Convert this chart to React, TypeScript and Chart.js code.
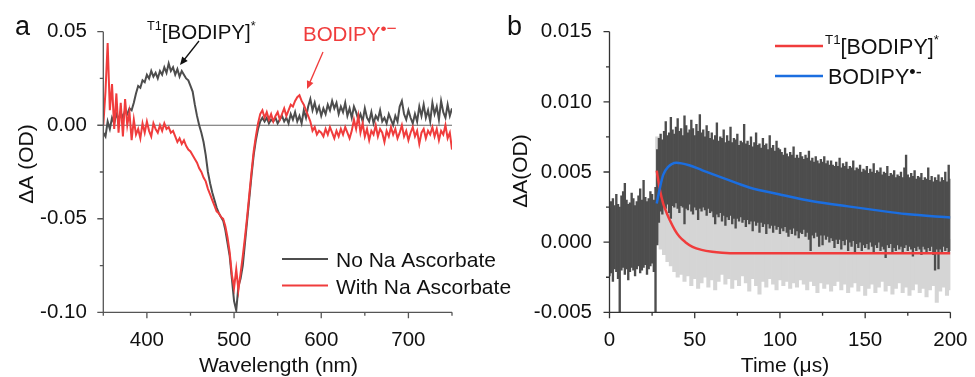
import React, { useEffect, useRef } from 'react';
import { Chart, registerables } from 'chart.js';

Chart.register(...registerables);

const FONT_FAMILY = '"Liberation Sans", Arial, Helvetica, sans-serif';

// ---------------- Panel a: transient absorption spectra ----------------
const WAVELENGTH_START = 350; // nm, first sample
const WAVELENGTH_STEP = 2.5; // nm between samples
const WAVELENGTH_LABELS = [400, 500, 600, 700];
const SPECTRUM_Y_LABELS = [-0.1, -0.05, 0, 0.05];

// No Na Ascorbate (dark trace), 350 → 750 nm
const noAscorbateSpectrum = [
  -0.004, -0.006, 0.002, -0.002, 0.004, 0.001, 0.006, 0.003, 0.007, 0.004, // 350
  0.008, 0.006, 0.009, 0.008, 0.012, 0.017, 0.021, 0.020, 0.024, 0.023, // 375
  0.027, 0.025, 0.029, 0.026, 0.028, 0.025, 0.029, 0.027, 0.031, 0.028, // 400
  0.033, 0.029, 0.031, 0.027, 0.030, 0.026, 0.029, 0.027, 0.025, 0.024, // 425
  0.021, 0.018, 0.011, 0.005, 0.000, -0.004, -0.009, -0.016, -0.025, -0.031, // 450
  -0.036, -0.040, -0.044, -0.047, -0.049, -0.051, -0.056, -0.063, -0.070, -0.082, // 475
  -0.094, -0.099, -0.086, -0.082, -0.075, -0.063, -0.051, -0.039, -0.027, -0.016, // 500
  -0.008, -0.002, 0.002, 0.004, 0.002, 0.004, 0.001, 0.003, 0.002, 0.004, // 525
  0.001, 0.003, 0.005, 0.002, 0.004, 0.001, 0.006, 0.003, 0.007, 0.002, // 550
  0.005, 0.001, 0.008, 0.004, 0.010, 0.014, 0.008, 0.012, 0.007, 0.010, // 575
  0.005, 0.009, 0.006, 0.011, 0.008, 0.013, 0.009, 0.012, 0.006, 0.010, // 600
  0.007, 0.012, 0.005, 0.009, 0.004, 0.010, 0.007, 0.003, 0.006, 0.002, // 625
  0.009, 0.004, 0.002, 0.007, 0.001, 0.005, 0.003, 0.008, 0.002, 0.004, // 650
  0.001, 0.006, 0.003, 0.000, 0.005, 0.002, 0.010, 0.013, 0.006, 0.003, // 675
  0.008, 0.004, 0.001, 0.006, 0.002, 0.010, 0.005, 0.011, 0.004, 0.008, // 700
  0.002, 0.012, 0.006, 0.010, 0.003, 0.013, 0.007, 0.004, 0.011, 0.005, // 725
  0.009, // 750
];

// With Na Ascorbate (red trace), 350 → 750 nm
const withAscorbateSpectrum = [
  0.000, 0.018, 0.044, 0.008, 0.022, -0.002, 0.017, -0.004, 0.012, -0.006, // 350
  0.014, 0.000, 0.007, -0.008, 0.003, -0.005, -0.002, -0.007, 0.001, -0.004, // 375
  0.002, -0.003, -0.006, 0.001, -0.002, -0.004, 0.000, -0.003, 0.001, -0.002, // 400
  -0.001, -0.004, -0.003, -0.006, -0.009, -0.007, -0.010, -0.008, -0.011, -0.013, // 425
  -0.014, -0.016, -0.018, -0.020, -0.023, -0.025, -0.028, -0.030, -0.034, -0.037, // 450
  -0.040, -0.043, -0.046, -0.047, -0.049, -0.050, -0.054, -0.060, -0.068, -0.080, // 475
  -0.087, -0.077, -0.088, -0.079, -0.070, -0.060, -0.049, -0.037, -0.025, -0.014, // 500
  -0.006, 0.001, 0.006, 0.008, 0.004, 0.007, 0.003, 0.006, 0.002, 0.005, // 525
  0.007, 0.003, 0.006, 0.009, 0.005, 0.008, 0.011, 0.010, 0.013, 0.015, // 550
  0.016, 0.013, 0.011, 0.008, 0.005, 0.002, -0.003, -0.001, -0.005, -0.003, // 575
  -0.004, -0.006, -0.002, -0.005, -0.001, -0.004, -0.007, -0.003, -0.006, -0.002, // 600
  -0.005, -0.001, -0.004, -0.007, -0.003, 0.003, -0.002, 0.005, -0.004, 0.001, // 625
  -0.006, -0.002, -0.008, -0.003, -0.005, 0.000, -0.006, -0.002, -0.004, -0.009, // 650
  -0.003, -0.006, -0.001, -0.005, -0.002, -0.007, -0.004, 0.000, -0.006, -0.003, // 675
  -0.008, -0.004, -0.001, -0.006, -0.003, -0.010, -0.004, -0.002, -0.007, -0.003, // 700
  -0.005, -0.001, -0.006, -0.002, -0.008, -0.003, -0.005, 0.000, -0.007, -0.004, // 725
  -0.013, // 750
];

// ---------------- Panel b: kinetics ----------------
const TIME_LABELS = [0, 50, 100, 150, 200];
const KINETIC_Y_LABELS = [-0.005, 0, 0.005, 0.01, 0.015];

// No Na Ascorbate raw trace: per-µs envelope (upper / lower extent of the noise)
const NO_ASC_TIME_START = 0; // µs
const NO_ASC_TIME_STEP = 1; // µs
const noAscorbateHigh = [
  0.0024, 0.0029, 0.0031, 0.0026, 0.0034, 0.0027, 0.0025, 0.0033, 0.0036, 0.0042, // 0
  0.0030, 0.0027, 0.0028, 0.0035, 0.0031, 0.0026, 0.0029, 0.0033, 0.0038, 0.0030, // 10
  0.0044, 0.0032, 0.0029, 0.0031, 0.0036, 0.0034, 0.0030, 0.0039, 0.0066, 0.0074, // 20
  0.0077, 0.0073, 0.0079, 0.0086, 0.0076, 0.0078, 0.0089, 0.0080, 0.0077, 0.0082, // 30
  0.0088, 0.0079, 0.0081, 0.0076, 0.0090, 0.0083, 0.0078, 0.0080, 0.0087, 0.0081, // 40
  0.0076, 0.0084, 0.0079, 0.0091, 0.0078, 0.0080, 0.0075, 0.0083, 0.0079, 0.0074, // 50
  0.0078, 0.0073, 0.0076, 0.0085, 0.0072, 0.0075, 0.0074, 0.0080, 0.0071, 0.0076, // 60
  0.0072, 0.0082, 0.0071, 0.0074, 0.0073, 0.0077, 0.0069, 0.0072, 0.0071, 0.0084, // 70
  0.0070, 0.0072, 0.0069, 0.0075, 0.0068, 0.0071, 0.0078, 0.0069, 0.0070, 0.0067, // 80
  0.0074, 0.0069, 0.0070, 0.0066, 0.0076, 0.0067, 0.0069, 0.0065, 0.0072, 0.0067, // 90
  0.0066, 0.0064, 0.0062, 0.0067, 0.0063, 0.0061, 0.0064, 0.0062, 0.0068, 0.0060, // 100
  0.0062, 0.0060, 0.0064, 0.0061, 0.0059, 0.0062, 0.0060, 0.0065, 0.0058, 0.0060, // 110
  0.0057, 0.0061, 0.0058, 0.0056, 0.0059, 0.0057, 0.0061, 0.0056, 0.0058, 0.0055, // 120
  0.0058, 0.0055, 0.0054, 0.0057, 0.0054, 0.0060, 0.0053, 0.0056, 0.0054, 0.0057, // 130
  0.0052, 0.0054, 0.0053, 0.0058, 0.0051, 0.0053, 0.0052, 0.0055, 0.0050, 0.0052, // 140
  0.0051, 0.0054, 0.0049, 0.0052, 0.0050, 0.0056, 0.0049, 0.0051, 0.0050, 0.0053, // 150
  0.0048, 0.0050, 0.0049, 0.0054, 0.0047, 0.0049, 0.0048, 0.0051, 0.0046, 0.0048, // 160
  0.0047, 0.0050, 0.0046, 0.0053, 0.0062, 0.0048, 0.0046, 0.0049, 0.0047, 0.0051, // 170
  0.0045, 0.0047, 0.0046, 0.0049, 0.0044, 0.0046, 0.0045, 0.0053, 0.0044, 0.0047, // 180
  0.0043, 0.0046, 0.0044, 0.0048, 0.0043, 0.0046, 0.0044, 0.0050, 0.0043, 0.0055, // 190
  0.0045, // 200
];
const noAscorbateLow = [
  -0.0024, -0.0022, -0.0028, -0.0019, -0.0021, -0.0026, -0.0050, -0.0020, -0.0018, -0.0023, // 0
  -0.0019, -0.0027, -0.0021, -0.0018, -0.0020, -0.0024, -0.0019, -0.0017, -0.0022, -0.0020, // 10
  -0.0018, -0.0016, -0.0023, -0.0019, -0.0017, -0.0015, -0.0021, -0.0050, -0.0002, 0.0014, // 20
  0.0022, 0.0020, 0.0026, 0.0024, 0.0027, 0.0021, 0.0017, 0.0026, 0.0025, 0.0028, // 30
  0.0024, 0.0021, 0.0026, 0.0025, 0.0013, 0.0024, 0.0023, 0.0027, 0.0022, 0.0020, // 40
  0.0025, 0.0023, 0.0016, 0.0024, 0.0022, 0.0025, 0.0023, 0.0019, 0.0024, 0.0021, // 50
  0.0022, 0.0018, 0.0013, 0.0020, 0.0018, 0.0021, 0.0015, 0.0019, 0.0012, 0.0018, // 60
  0.0016, 0.0019, 0.0013, 0.0017, 0.0010, 0.0017, 0.0015, 0.0018, 0.0014, 0.0016, // 70
  0.0011, 0.0016, 0.0013, 0.0015, 0.0008, 0.0015, 0.0012, 0.0014, 0.0007, 0.0014, // 80
  0.0011, 0.0013, 0.0006, 0.0013, 0.0010, 0.0012, 0.0007, 0.0012, 0.0009, 0.0011, // 90
  0.0006, 0.0010, 0.0008, 0.0011, 0.0007, 0.0004, 0.0009, 0.0006, 0.0010, 0.0005, // 100
  0.0008, 0.0003, 0.0007, 0.0006, 0.0009, 0.0004, 0.0007, 0.0002, -0.0006, 0.0005, // 110
  0.0003, 0.0007, 0.0004, -0.0003, 0.0005, -0.0002, 0.0005, 0.0002, 0.0004, 0.0000, // 120
  0.0003, 0.0001, -0.0004, 0.0002, -0.0001, 0.0002, -0.0005, 0.0001, -0.0002, 0.0002, // 130
  -0.0006, 0.0000, -0.0003, 0.0001, -0.0007, -0.0001, -0.0004, 0.0000, -0.0006, -0.0002, // 140
  -0.0004, -0.0001, -0.0005, 0.0000, -0.0003, -0.0007, -0.0002, -0.0004, 0.0000, -0.0006, // 150
  -0.0003, -0.0005, -0.0011, -0.0002, -0.0004, -0.0001, -0.0007, -0.0004, -0.0006, -0.0002, // 160
  -0.0005, -0.0003, -0.0008, -0.0004, -0.0002, -0.0006, -0.0003, -0.0005, -0.0010, -0.0004, // 170
  -0.0006, -0.0003, -0.0005, -0.0009, -0.0003, -0.0005, -0.0007, -0.0004, -0.0006, -0.0003, // 180
  -0.0009, -0.0020, -0.0005, -0.0019, -0.0005, -0.0007, -0.0003, -0.0006, -0.0004, -0.0008, // 190
  -0.0006, // 200
];

// With Na Ascorbate raw trace (light grey): envelope every 2 µs after the pulse
const WITH_ASC_TIME_START = 28; // µs
const WITH_ASC_TIME_STEP = 2; // µs
const withAscorbateHigh = [
  0.0075, 0.0045, 0.0040, 0.0036, 0.0033, 0.0030, 0.0028, 0.0034, 0.0026, 0.0029, // 28
  0.0025, 0.0027, 0.0023, 0.0028, 0.0024, 0.0026, 0.0022, 0.0025, 0.0021, 0.0024, // 48
  0.0020, 0.0023, 0.0019, 0.0022, 0.0020, 0.0023, 0.0018, 0.0021, 0.0019, 0.0022, // 68
  0.0018, 0.0020, 0.0017, 0.0021, 0.0018, 0.0016, 0.0019, 0.0017, 0.0015, 0.0018, // 88
  0.0016, 0.0014, 0.0017, 0.0015, 0.0013, 0.0016, 0.0014, 0.0012, 0.0015, 0.0013, // 108
  0.0011, 0.0014, 0.0012, 0.0010, 0.0013, 0.0011, 0.0009, 0.0012, 0.0010, 0.0008, // 128
  0.0011, 0.0009, 0.0007, 0.0010, 0.0008, 0.0006, 0.0009, 0.0007, 0.0005, 0.0008, // 148
  0.0006, 0.0004, 0.0007, 0.0005, 0.0003, 0.0006, 0.0004, 0.0002, 0.0005, 0.0003, // 168
  0.0001, 0.0004, 0.0002, 0.0000, 0.0003, 0.0001, 0.0002, // 188
];
const withAscorbateLow = [
  0.0000, -0.0005, -0.0009, -0.0014, -0.0017, -0.0021, -0.0025, -0.0023, -0.0028, -0.0024, // 28
  -0.0031, -0.0026, -0.0033, -0.0029, -0.0025, -0.0032, -0.0027, -0.0034, -0.0028, -0.0023, // 48
  -0.0030, -0.0026, -0.0033, -0.0027, -0.0031, -0.0024, -0.0029, -0.0035, -0.0026, -0.0031, // 68
  -0.0037, -0.0028, -0.0032, -0.0026, -0.0030, -0.0034, -0.0027, -0.0031, -0.0028, -0.0033, // 88
  -0.0029, -0.0032, -0.0027, -0.0030, -0.0034, -0.0028, -0.0031, -0.0036, -0.0029, -0.0033, // 108
  -0.0030, -0.0035, -0.0031, -0.0028, -0.0034, -0.0030, -0.0036, -0.0032, -0.0029, -0.0035, // 128
  -0.0031, -0.0038, -0.0033, -0.0030, -0.0036, -0.0032, -0.0028, -0.0035, -0.0031, -0.0037, // 148
  -0.0033, -0.0029, -0.0036, -0.0032, -0.0038, -0.0034, -0.0030, -0.0036, -0.0033, -0.0039, // 168
  -0.0034, -0.0031, -0.0043, -0.0035, -0.0032, -0.0038, -0.0034, // 188
];

// Kinetic fits
const tripletFitTime = [27.7, 29.6, 31.5, 33.5, 35.4, 38.2, 41.1, 44.5, 48.7, 54, 60.2, 66, 75, 90, 120, 160, 200];
const tripletFitValue = [0.0051, 0.0037, 0.00275, 0.0021, 0.00156, 0.0009, 0.00038, 0.0, -0.00033, -0.00055, -0.00069, -0.00076, -0.0008, -0.0008, -0.0008, -0.0008, -0.0008];
const anionFitTime = [27.7, 29.6, 31.5, 34.4, 39.2, 46.8, 54.5, 66, 82, 100, 120, 140, 155, 174, 200];
const anionFitValue = [0.00275, 0.0039, 0.0048, 0.00536, 0.00566, 0.00548, 0.00512, 0.0046, 0.0039, 0.0034, 0.0029, 0.00255, 0.0023, 0.002, 0.00176];

// ---------------- styling ----------------
const DARK_TRACE = '#4d4d4d';
const LIGHT_TRACE = '#d5d5d5';
const RED = '#f03c3c';
const BLUE = '#1b6ee0';
const TICK_FONT = { family: FONT_FAMILY, size: 20.5 };
const MAJOR_TICK = 6;
const MINOR_TICK = 3.5;
const PANEL_A_WIDTH = 520;
const PANEL_B_LEFT = 487;

function matchLabel(v: number, list: number[]) {
  return list.find((m) => Math.abs(m - v) < 1e-7);
}

// [text, superscript?, size scale, rise (fraction of size)]
type Part = [string, boolean?, number?, number?];
function drawRich(ctx: CanvasRenderingContext2D, x: number, y: number, parts: Part[], size: number, color: string) {
  ctx.save();
  ctx.fillStyle = color;
  ctx.textBaseline = 'alphabetic';
  ctx.textAlign = 'left';
  let cx = x;
  for (const [text, sup, scale, rise] of parts) {
    const fs = sup ? size * (scale ?? 0.62) : size;
    ctx.font = `${fs}px ${FONT_FAMILY}`;
    ctx.fillText(text, cx, sup ? y - size * (rise ?? 0.43) : y);
    cx += ctx.measureText(text).width;
  }
  ctx.restore();
}

function drawArrow(ctx: CanvasRenderingContext2D, x1: number, y1: number, x2: number, y2: number, color: string) {
  const a = Math.atan2(y2 - y1, x2 - x1);
  const hl = 8;
  const hw = 3.5;
  ctx.save();
  ctx.strokeStyle = color;
  ctx.fillStyle = color;
  ctx.lineWidth = 1.3;
  ctx.beginPath();
  ctx.moveTo(x1, y1);
  ctx.lineTo(x2 - hl * 0.8 * Math.cos(a), y2 - hl * 0.8 * Math.sin(a));
  ctx.stroke();
  ctx.beginPath();
  ctx.moveTo(x2, y2);
  ctx.lineTo(x2 - hl * Math.cos(a) + hw * Math.sin(a), y2 - hl * Math.sin(a) - hw * Math.cos(a));
  ctx.lineTo(x2 - hl * Math.cos(a) - hw * Math.sin(a), y2 - hl * Math.sin(a) + hw * Math.cos(a));
  ctx.closePath();
  ctx.fill();
  ctx.restore();
}

function drawAxes(chart: any, color: string) {
  const { ctx, chartArea } = chart;
  const { left, right, top, bottom } = chartArea;
  const xs = chart.scales.x;
  const ys = chart.scales.y;
  ctx.save();
  ctx.strokeStyle = color;
  ctx.lineWidth = 1.3;
  ctx.beginPath();
  ctx.moveTo(left, top);
  ctx.lineTo(left, bottom);
  ctx.lineTo(right, bottom);
  for (const t of xs.ticks) {
    const p = xs.getPixelForValue(t.value);
    const len = t.label ? MAJOR_TICK : MINOR_TICK;
    ctx.moveTo(p, bottom);
    ctx.lineTo(p, bottom + len);
  }
  for (const t of ys.ticks) {
    const p = ys.getPixelForValue(t.value);
    const len = t.label ? MAJOR_TICK : MINOR_TICK;
    ctx.moveTo(left, p);
    ctx.lineTo(left - len, p);
  }
  ctx.stroke();
  ctx.restore();
}

function drawText(ctx: CanvasRenderingContext2D, text: string, x: number, y: number, size: number, align: CanvasTextAlign, color = '#111', rotate = false) {
  ctx.save();
  ctx.fillStyle = color;
  ctx.font = `${size}px ${FONT_FAMILY}`;
  ctx.textAlign = align;
  ctx.textBaseline = 'alphabetic';
  ctx.translate(x, y);
  if (rotate) ctx.rotate(-Math.PI / 2);
  ctx.fillText(text, 0, 0);
  ctx.restore();
}

const panelADecor = {
  id: 'panelADecor',
  beforeDatasetsDraw(chart: any) {
    const { ctx, chartArea } = chart;
    const y0 = chart.scales.y.getPixelForValue(0);
    ctx.save();
    ctx.strokeStyle = '#666';
    ctx.lineWidth = 1.2;
    ctx.beginPath();
    ctx.moveTo(chartArea.left, y0);
    ctx.lineTo(chartArea.right, y0);
    ctx.stroke();
    ctx.restore();
  },
  afterDraw(chart: any) {
    const ctx: CanvasRenderingContext2D = chart.ctx;
    drawAxes(chart, '#555');
    drawText(ctx, 'a', 15, 35, 27, 'left');
    drawText(ctx, 'ΔA (OD)', 33, 164, 21, 'center', '#111', true);
    drawText(ctx, 'Wavelength (nm)', 278.5, 372, 21, 'center');
    // annotations
    drawRich(ctx, 147, 38.5, [['T1', true], ['[BODIPY]'], ['*', true]], 20.5, '#111');
    drawArrow(ctx, 199, 41, 180, 65, '#111');
    drawRich(ctx, 303, 40.5, [['BODIPY'], ['•−', true, 0.85, 0.3]], 20.5, RED);
    drawArrow(ctx, 323, 52, 307, 89, RED);
    // legend
    ctx.save();
    ctx.lineWidth = 2;
    ctx.strokeStyle = DARK_TRACE;
    ctx.beginPath();
    ctx.moveTo(282, 259);
    ctx.lineTo(328, 259);
    ctx.stroke();
    ctx.strokeStyle = RED;
    ctx.beginPath();
    ctx.moveTo(282, 285.5);
    ctx.lineTo(328, 285.5);
    ctx.stroke();
    ctx.restore();
    drawText(ctx, 'No Na Ascorbate', 336, 267, 21, 'left');
    drawText(ctx, 'With Na Ascorbate', 336, 293.5, 21, 'left');
  },
};

const panelBDecor = {
  id: 'panelBDecor',
  afterDraw(chart: any) {
    const ctx: CanvasRenderingContext2D = chart.ctx;
    const ox = PANEL_B_LEFT;
    drawAxes(chart, '#333');
    drawText(ctx, 'b', 507 - ox, 35, 27, 'left');
    drawText(ctx, 'ΔA(OD)', 527 - ox, 171, 21, 'center', '#111', true);
    drawText(ctx, 'Time (μs)', 785 - ox, 372, 21, 'center');
    // legend
    ctx.save();
    ctx.lineWidth = 2.5;
    ctx.strokeStyle = RED;
    ctx.beginPath();
    ctx.moveTo(775 - ox, 46);
    ctx.lineTo(823 - ox, 46);
    ctx.stroke();
    ctx.strokeStyle = BLUE;
    ctx.beginPath();
    ctx.moveTo(775 - ox, 76);
    ctx.lineTo(823 - ox, 76);
    ctx.stroke();
    ctx.restore();
    drawRich(ctx, 825 - ox, 53.5, [['T1', true], ['[BODIPY]'], ['*', true]], 21.5, '#111');
    drawRich(ctx, 828 - ox, 84, [['BODIPY'], ['•-', true, 0.85, 0.3]], 21.5, '#111');
  },
};

function spectrumConfig(): any {
  const toPoints = (arr: number[]) => arr.map((v, i) => ({ x: WAVELENGTH_START + i * WAVELENGTH_STEP, y: v }));
  return {
    type: 'line',
    data: {
      datasets: [
        {
          label: 'With Na Ascorbate',
          data: toPoints(withAscorbateSpectrum),
          borderColor: RED,
          borderWidth: 2,
          pointRadius: 0,
          tension: 0,
          order: 1,
        },
        {
          label: 'No Na Ascorbate',
          data: toPoints(noAscorbateSpectrum),
          borderColor: DARK_TRACE,
          borderWidth: 2,
          pointRadius: 0,
          tension: 0,
          order: 2,
        },
      ],
    },
    options: {
      animation: false,
      responsive: false,
      maintainAspectRatio: false,
      events: [],
      layout: { padding: { left: 0, right: PANEL_A_WIDTH - 452, top: 31.7, bottom: 0 } },
      plugins: { legend: { display: false }, tooltip: { enabled: false }, title: { display: false } },
      scales: {
        x: {
          type: 'linear',
          min: 350,
          max: 750,
          grid: { display: false },
          border: { display: false },
          ticks: {
            stepSize: 50,
            autoSkip: false,
            maxRotation: 0,
            padding: 7.5,
            color: '#111',
            font: TICK_FONT,
            callback: (v: number) => {
              const m = matchLabel(v, WAVELENGTH_LABELS);
              return m === undefined ? '' : String(m);
            },
          },
          afterFit: (s: any) => {
            s.height = 64.7;
          },
        },
        y: {
          type: 'linear',
          min: -0.1,
          max: 0.05,
          grid: { display: false },
          border: { display: false },
          ticks: {
            stepSize: 0.025,
            autoSkip: false,
            padding: 8.5,
            color: '#111',
            font: TICK_FONT,
            callback: (v: number) => {
              const m = matchLabel(v, SPECTRUM_Y_LABELS);
              return m === undefined ? '' : m.toFixed(2);
            },
          },
          afterFit: (s: any) => {
            s.width = 103.3;
          },
        },
      },
    },
    plugins: [panelADecor],
  };
}

function kineticsConfig(): any {
  const darkBars = noAscorbateHigh.map((h, i) => ({ x: NO_ASC_TIME_START + i * NO_ASC_TIME_STEP, y: [noAscorbateLow[i], h] }));
  const lightBars = withAscorbateHigh.map((h, i) => ({ x: WITH_ASC_TIME_START + i * WITH_ASC_TIME_STEP, y: [withAscorbateLow[i], h] }));
  return {
    type: 'bar',
    data: {
      datasets: [
        {
          type: 'line',
          label: 'BODIPY•-',
          data: anionFitTime.map((t, i) => ({ x: t, y: anionFitValue[i] })),
          borderColor: BLUE,
          borderWidth: 2.5,
          pointRadius: 0,
          cubicInterpolationMode: 'monotone',
          order: 0,
        },
        {
          type: 'line',
          label: 'T1[BODIPY]*',
          data: tripletFitTime.map((t, i) => ({ x: t, y: tripletFitValue[i] })),
          borderColor: RED,
          borderWidth: 2.5,
          pointRadius: 0,
          cubicInterpolationMode: 'monotone',
          order: 1,
        },
        {
          type: 'bar',
          label: 'No Na Ascorbate',
          data: darkBars,
          backgroundColor: DARK_TRACE,
          borderWidth: 0,
          barPercentage: 1,
          categoryPercentage: 1,
          grouped: false,
          order: 2,
        },
        {
          type: 'bar',
          label: 'With Na Ascorbate',
          xAxisID: 'xLight',
          data: lightBars,
          backgroundColor: LIGHT_TRACE,
          borderWidth: 0,
          barPercentage: 1,
          categoryPercentage: 1,
          grouped: false,
          order: 3,
        },
      ],
    },
    options: {
      animation: false,
      responsive: false,
      maintainAspectRatio: false,
      events: [],
      layout: { padding: { left: 0, right: 16, top: 31.7, bottom: 0 } },
      plugins: { legend: { display: false }, tooltip: { enabled: false }, title: { display: false } },
      scales: {
        x: {
          type: 'linear',
          min: 0,
          max: 200,
          offset: false,
          grid: { display: false, offset: false },
          border: { display: false },
          ticks: {
            stepSize: 25,
            autoSkip: false,
            maxRotation: 0,
            padding: 7.5,
            color: '#111',
            font: TICK_FONT,
            callback: (v: number) => {
              const m = matchLabel(v, TIME_LABELS);
              return m === undefined ? '' : String(m);
            },
          },
          afterFit: (s: any) => {
            s.height = 64.7;
          },
        },
        xLight: {
          type: 'linear',
          axis: 'x',
          position: 'bottom',
          min: 0,
          max: 200,
          offset: false,
          display: false,
          grid: { display: false, offset: false },
        },
        y: {
          type: 'linear',
          min: -0.005,
          max: 0.015,
          beginAtZero: false,
          grid: { display: false },
          border: { display: false },
          ticks: {
            stepSize: 0.0025,
            autoSkip: false,
            padding: 9.5,
            color: '#111',
            font: TICK_FONT,
            callback: (v: number) => {
              const m = matchLabel(v, KINETIC_Y_LABELS);
              return m === undefined ? '' : m.toFixed(3);
            },
          },
          afterFit: (s: any) => {
            s.width = 122.5;
          },
        },
      },
    },
    plugins: [panelBDecor],
  };
}

function ChartCanvas({ left, width, makeConfig }: { left: number; width: number; makeConfig: () => any }) {
  const ref = useRef<HTMLCanvasElement>(null);
  useEffect(() => {
    if (!ref.current) return;
    const chart = new Chart(ref.current, makeConfig());
    return () => chart.destroy();
  }, []);
  return (
    <canvas
      ref={ref}
      width={width}
      height={377}
      style={{ position: 'absolute', left, top: 0, width, height: 377, display: 'block' }}
    />
  );
}

export default function App() {
  return (
    <div style={{ position: 'absolute', left: 0, top: 0, width: 975, height: 377, background: '#fff', overflow: 'hidden' }}>
      <ChartCanvas left={0} width={PANEL_A_WIDTH} makeConfig={spectrumConfig} />
      <ChartCanvas left={PANEL_B_LEFT} width={975 - PANEL_B_LEFT} makeConfig={kineticsConfig} />
    </div>
  );
}
